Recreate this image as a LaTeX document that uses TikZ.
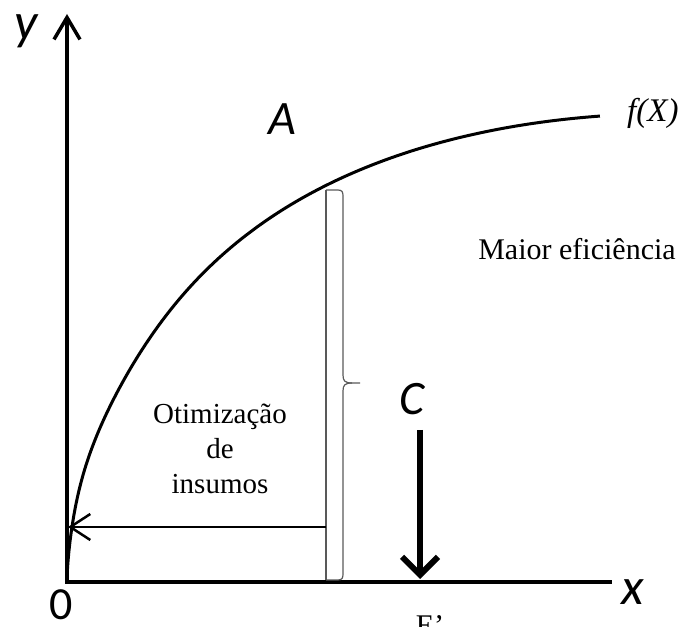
\documentclass[tikz,border=0pt]{standalone}
\usepackage{fontspec}
\setmainfont{Liberation Serif}
\newfontfamily\calib{Carlito}
\usetikzlibrary{arrows.meta}
\begin{document}
\begin{tikzpicture}[x=1pt,y=1pt,
  axis/.style={line width=3.5pt, line join=miter},
  curve/.style={line width=3pt, line join=round},
  brc/.style={line width=1.2pt, draw=black!65},
  sanslab/.style={font=\calib\itshape\fontsize{48}{50}\selectfont, inner sep=0pt, anchor=base},
  serlab/.style={font=\fontsize{29}{35}\selectfont, inner sep=0pt, anchor=base, align=center}]
\clip (0,0) rectangle (686,627);
\coordinate (O) at (67,45);
\coordinate (ytip) at (67,613);
\coordinate (xend) at (612,45);
\draw[axis, {Straight Barb[length=22pt,width=26pt]}-] (ytip) -- (O) -- (xend);
\draw[curve] plot[variable=\t, domain=0:23.087, samples=160]
  ({67+\t*\t}, {45 + 176.95*ln(1+\t*\t/28) - 2.27*(\t*\t/100)*(\t*\t/100) + 15*\t*exp(-\t*\t/20)});
% brace
\coordinate (bt) at (326,437);
\coordinate (bb) at (326,47);
\draw[brc] (bt) -- (bb);
\draw[brc] (bt) -- (338,437) .. controls (342,437) and (343,435) .. (343,431) -- (343,252)
  .. controls (343,246) and (345,244) .. (352,244) -- (360,244);
\draw[brc] (352,244) .. controls (345,244) and (343,242) .. (343,236) -- (343,53)
  .. controls (343,49) and (342,47) .. (338,47) -- (bb);
% arrows
\coordinate (hs) at (326,100);
\coordinate (he) at (68,100);
\draw[line width=2.5pt, -{Straight Barb[length=20pt,width=26pt]}] (hs) -- (he);
\coordinate (cs) at (420,197);
\coordinate (ce) at (420,48);
\draw[line width=6pt, -{Straight Barb[length=18pt,width=36pt]}] (cs) -- (ce);
% labels
\node[sanslab, font=\calib\itshape\fontsize{52}{54}\selectfont] (ylab) at (26,587) {y};
\node[sanslab, font=\calib\itshape\fontsize{52}{54}\selectfont] (xlab) at (633,22) {x};
\node[sanslab, font=\calib\fontsize{46}{48}\selectfont] (olab) at (61,7) {0};
\node[sanslab] (alab) at (282,492) {A};
\node[sanslab] (clab) at (412,212) {C};
\node[serlab, font=\itshape\fontsize{33}{35}\selectfont, anchor=base west] (flab) at (627,505) {f(X)};
\node[serlab, font=\fontsize{30}{35}\selectfont] (mlab) at (577,367) {Maior eficiência};
\node[serlab, anchor=north] (olab2) at (220,223) {Otimização\\de\\insumos};
\node[serlab, font=\fontsize{30}{35}\selectfont] (elab) at (430,-9) {E’};
\end{tikzpicture}
\end{document}
